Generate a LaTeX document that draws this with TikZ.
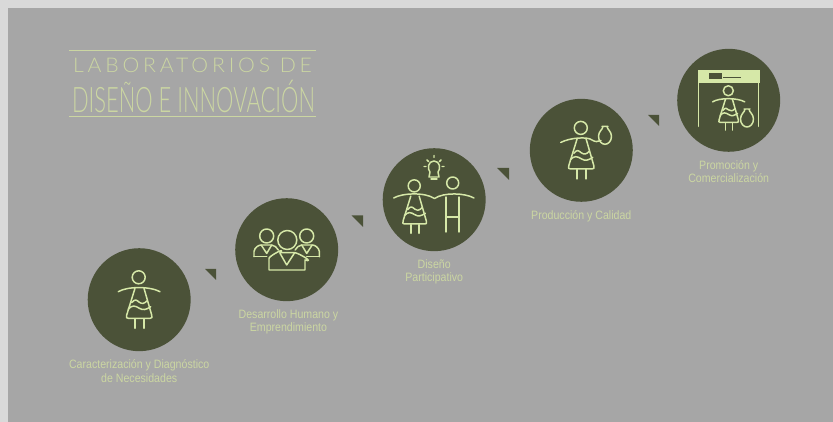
\documentclass[tikz,border=0pt]{standalone}
\usepackage{fontspec}
\setmainfont[FakeStretch=0.875]{Liberation Sans}
\newfontfamily\titlewide[LetterSpace=19,FakeStretch=1.05]{Lato Light}
\newfontfamily\titlenarrow[FakeStretch=0.624]{Lato Light}
\usetikzlibrary{positioning}
\definecolor{pagegrey}{HTML}{D9D9D9}
\definecolor{panelgrey}{HTML}{A6A6A6}
\definecolor{olive}{HTML}{4B5238}
\definecolor{leaf}{HTML}{D6E8A8}
\definecolor{labeltext}{HTML}{CBD6A2}
\tikzset{
% one figure, origin at the centre of its circle
woman/.pic={
  \draw[icon] (-0.5,-22.4) circle (6.5);
  \draw[icon] (-4.2,-11.4) -- (-12.5,15.3) .. controls (-13.5,18) and (-12.5,18.6) .. (-10.9,18.6) -- (10.8,18.6) .. controls (12.5,18.6) and (13.5,18) .. (12.5,15.3) -- (4.8,-11.4);
  \draw[icon] (-7.5,3) .. controls (-4,-1) and (-3,0) .. (0,2.5) .. controls (3,4.5) and (5,4) .. (8,1);
  \draw[icon] (-11,9.5) .. controls (-7,5) and (-4,6) .. (0,8.5) .. controls (4,11) and (7,10) .. (11.5,7);
  \draw[icon] (-4.2,19.3) -- (-4.2,28.6) (4.8,19.3) -- (4.8,28.6);
},
arms/.pic={
  \draw[icon] (-20.9,-8) .. controls (-12,-13.5) and (11,-13.5) .. (20.8,-8);
},
jar/.pic={
  \draw[icon] (-3,-9) -- (3,-9) (-2,-9) .. controls (-2,-6) and (-6.5,-4) .. (-6.5,1) .. controls (-6.5,6) and (-3,9) .. (0,9) .. controls (3,9) and (6.5,6) .. (6.5,1) .. controls (6.5,-4) and (2,-6) .. (2,-9);
},
person/.pic={
  \draw[icon] (0,-18.4) circle (7);
  \draw[icon] (-12.7,2.3) -- (-12.7,-3) .. controls (-12,-7) and (-8,-9.4) .. (-5.7,-9.4) -- (5,-9.4) .. controls (8,-9) and (10,-7) .. (11.6,-4.4);
  \draw[icon] (-12.7,2.3) -- (0,2.3);
  \draw[icon] (-5.5,-9.4) -- (0,-1) -- (5,-9.4);
},
stepcircle/.style={circle, fill=olive, minimum size=2.06cm, inner sep=0pt},
steplabel/.style={text=labeltext, font=\fontsize{6.9}{7.5}\selectfont, align=center, inner sep=0pt, below=4.6pt of #1},
stepmark/.style={fill=olive},
icon/.style={draw=leaf, line width=0.85pt, line cap=round, line join=round},
titlerule/.style={draw=labeltext, line width=0.45pt},
titletext/.style={text=labeltext, inner sep=0pt},
}
\begin{document}
\begin{tikzpicture}[x=0.02cm, y=-0.02cm]
\fill[pagegrey] (0,0) rectangle (833,422);
\fill[panelgrey] (8,8) rectangle (833,422);
\useasboundingbox (0,0) rectangle (833,422);
% title
\coordinate (ruleA) at (69,50);
\coordinate (ruleB) at (316,50);
\coordinate (ruleC) at (69,116);
\coordinate (ruleD) at (316,116);
\draw[titlerule] (ruleA) -- (ruleB);
\draw[titlerule] (ruleC) -- (ruleD);
\node[titletext, font=\titlewide\fontsize{11.5}{12}\selectfont] (titleA) at (192.5,65.5) {LABORATORIOS DE};
\node[titletext, font=\titlenarrow\fontsize{20}{22}\selectfont] (titleB) at (193.5,96) {DISEÑO E INNOVACIÓN};
% steps
\node[stepcircle] (diag) at (139.2,299.7) {};
\node[stepcircle] (human) at (286.7,249.7) {};
\node[stepcircle] (part) at (434.2,199.7) {};
\node[stepcircle] (prod) at (581.3,150.3) {};
\node[stepcircle] (promo) at (728.7,100.3) {};
\node[steplabel=diag] (diaglabel) {Caracterización y Diagnóstico\\de Necesidades};
\node[steplabel=human, xshift=1pt] (humanlabel) {Desarrollo Humano y\\Emprendimiento};
\node[steplabel=part] (partlabel) {Diseño\\Participativo};
\node[steplabel=prod] (prodlabel) {Producción y Calidad};
\node[steplabel=promo] (promolabel) {Promoción y\\Comercialización};
% corner marks between the steps
\fill[stepmark] (205,269) -- (216,269) -- (216,280) -- cycle;
\fill[stepmark] (351.5,215.5) -- (363,215.5) -- (363,227) -- cycle;
\fill[stepmark] (497,168) -- (509,168) -- (509,180) -- cycle;
\fill[stepmark] (648,115) -- (659,115) -- (659,126) -- cycle;
% icons
\pic at (diag) {woman};
\pic at (diag) {arms};
\pic at (human) [shift={(-20,4.7)}] {person};
\pic at (human) [shift={(20,4.7)}, xscale=-1] {person};
\filldraw[icon, fill=olive] (human) ++(0.6,-9.7) circle (9.5);
\filldraw[icon, fill=olive] (human) ++(-17.7,20.3) -- ++(0,-11.7) .. controls ++(1,-3) and ++(7,-6) .. ++(11,-5.6) -- ++(15,0) .. controls ++(5,1) and ++(10,3) .. ++(10,7.3) -- ++(0,10) -- cycle;
\draw[icon] (human) ++(-6.7,3.6) -- ++(6.7,11.7) -- ++(7.6,-11.7);
\pic at (part) [shift={(-19.5,7)}, scale=0.93] {woman};
\draw[icon] (393.7,198) .. controls (402,193) and (425,192) .. (434.5,198.5) .. controls (444,192) and (465,193) .. (474,198);
\draw[icon] (452.7,183) circle (6);
\draw[icon] (446,197) -- (446,232) (459,197) -- (459,232) (446,217) -- (459,217);
\draw[icon] (429,177) -- (430,172) .. controls (427,169) and (428,161) .. (434,161) .. controls (440,161) and (441,169) .. (438,172) -- (439,177) -- cycle;
\draw[icon] (431,179) -- (437,179);
\draw[icon] (434,155.5) -- (434,157.5) (427,160) -- (428.5,161.5) (441,160) -- (439.5,161.5) (424,166.5) -- (426,166.5) (444,166.5) -- (442,166.5);
\pic at (prod) {woman};
\draw[icon] (560.7,142.5) .. controls (570,137.5) and (588,136.5) .. (592,140) .. controls (595,142) and (598,142) .. (601,140.5);
\pic at (prod) [shift={(23.7,-15)}] {jar};
\fill[leaf] (698,70) rectangle (759.5,83);
\fill[olive] (709,73) rectangle (722,79.3);
\draw[olive, line width=0.35pt] (723,77) -- (741,77);
\pic at (promo) [shift={(0,7.7)}, scale=0.77] {woman};
\pic at (promo) [shift={(0,7.7)}, scale=0.77] {arms};
\pic at (promo) [shift={(18.3,17.7)}] {jar};
\draw[icon] (promo) ++(-30,26) -- ++(0,-56) -- ++(60,0) -- ++(0,56);
\end{tikzpicture}
\end{document}
